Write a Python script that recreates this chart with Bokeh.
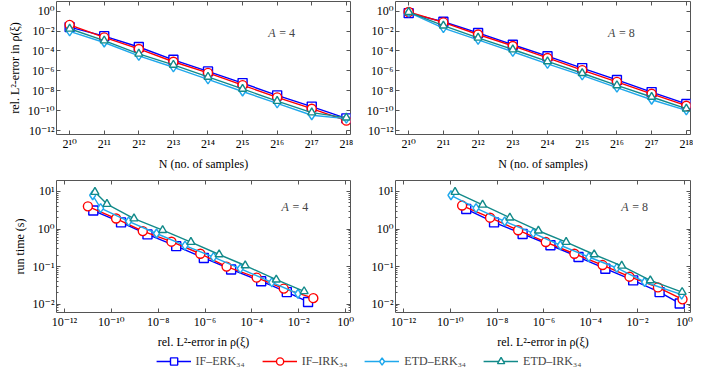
import math
from bokeh.plotting import figure
from bokeh.models import (Range1d, FixedTicker, LogAxis, CustomJSTickFormatter,
                          Label, Legend, LegendItem)
from bokeh.layouts import column, row
from bokeh.embed import file_html
from bokeh.resources import INLINE

# ---------------- data ----------------
N_samples = [1024, 2048, 4096, 8192, 16384, 32768, 65536, 131072, 262144]

# relative L2 error, A = 4
err4_if_erk = [2.5e-2, 3.1e-3, 2.5e-4, 1.3e-5, 8.9e-7, 5.9e-8, 3.5e-9, 2.6e-10, 1.7e-11]
err4_if_irk = [4.2e-2, 2.3e-3, 1.6e-4, 8.3e-6, 6.3e-7, 3.7e-8, 2.2e-9, 1.6e-10, 1.0e-11]
err4_etd_erk = [9.3e-3, 7.1e-4, 3.2e-5, 2.3e-6, 1.4e-7, 8.5e-9, 5.5e-10, 3.5e-11, 1.6e-11]
err4_etd_irk = [1.7e-2, 1.1e-3, 5.2e-5, 4.0e-6, 2.5e-7, 1.55e-8, 9.3e-10, 6.5e-11, 2.0e-11]

# relative L2 error, A = 8
err8_if_erk = [6.3e-1, 8.7e-2, 6.5e-3, 4.2e-4, 3.0e-5, 1.9e-6, 1.23e-7, 7.4e-9, 4.8e-10]
err8_if_irk = [8.3e-1, 7.4e-2, 4.5e-3, 3.2e-4, 2.0e-5, 1.2e-6, 7.9e-8, 5.0e-9, 3.2e-10]
err8_etd_erk = [7.6e-1, 2.0e-2, 1.3e-3, 8.3e-5, 5.0e-6, 3.5e-7, 2.1e-8, 1.26e-9, 1.07e-10]
err8_etd_irk = [8.0e-1, 3.5e-2, 2.1e-3, 1.4e-4, 8.9e-6, 5.8e-7, 3.5e-8, 2.4e-9, 1.6e-10]

# run time (s), A = 4
rt4_if_erk = [0.0115, 0.021, 0.041, 0.084, 0.17, 0.35, 0.72, 1.5, 3.1]
rt4_if_irk = [0.0145, 0.026, 0.051, 0.10, 0.22, 0.46, 0.88, 1.9, 4.0]
rt4_etd_erk = [0.019, 0.038, 0.089, 0.18, 0.36, 0.76, 1.6, 3.6, 7.9]
rt4_etd_irk = [0.022, 0.045, 0.107, 0.21, 0.45, 0.93, 1.9, 4.6, 9.6]

# run time (s), A = 8
rt8_if_erk = [0.0105, 0.021, 0.043, 0.088, 0.18, 0.37, 0.74, 1.5, 3.4]
rt8_if_irk = [0.0135, 0.028, 0.054, 0.11, 0.22, 0.45, 0.93, 2.0, 4.2]
rt8_etd_erk = [0.018, 0.039, 0.092, 0.18, 0.37, 0.78, 1.6, 3.6, 7.9]
rt8_etd_irk = [0.021, 0.043, 0.105, 0.21, 0.45, 0.90, 2.0, 4.4, 9.6]

method_names = ["IF\u2013ERK\u2083\u2084", "IF\u2013IRK\u2083\u2084",
                "ETD\u2013ERK\u2083\u2084", "ETD\u2013IRK\u2083\u2084"]

err_ticks = [1e-12, 1e-10, 1e-8, 1e-6, 1e-4, 1e-2, 1e0]
rt_ticks = [1e-2, 1e-1, 1e0, 1e1]
rt_minor = [m * t for t in [1e-3, 1e-2, 1e-1, 1e0, 1e1] for m in range(2, 10)]

# ---------------- style ----------------
COLORS = ["#0000ff", "#ff0000", "#1fa8ec", "#128a8a"]
MARKERS = ["square", "circle", "diamond", "triangle"]
MSIZES = [9, 9, 9, 8]
FONT = "'Liberation Serif', 'DejaVu Serif', serif"
FRAME = "#555555"
LW = 1.4

sup_js = """
const s = {"0":"\u2070","1":"\u00b9","2":"\u00b2","3":"\u00b3","4":"\u2074","5":"\u2075",
           "6":"\u2076","7":"\u2077","8":"\u2078","9":"\u2079","-":"\u207b"};
"""
fmt10 = CustomJSTickFormatter(code=sup_js + """
const e = Math.round(Math.log10(tick));
return "10" + String(e).split("").map(c => s[c]).join("");
""")
fmt2 = CustomJSTickFormatter(code=sup_js + """
const e = Math.round(Math.log2(tick));
return "2" + String(e).split("").map(c => s[c]).join("");
""")
fmt_blank = CustomJSTickFormatter(code='return "";')


def style_axis(ax, ticker, formatter=None, label=None, show_labels=True):
    ax.ticker = ticker
    ax.axis_line_color = None
    ax.major_tick_in = 4
    ax.major_tick_out = 0
    ax.minor_tick_in = 2
    ax.minor_tick_out = 0
    ax.major_tick_line_color = FRAME
    ax.minor_tick_line_color = FRAME
    ax.major_label_text_font = FONT
    ax.major_label_text_color = "black"
    if show_labels:
        ax.formatter = formatter
        ax.major_label_text_font_size = "12px"
        ax.major_label_standoff = 2
    else:
        ax.formatter = fmt_blank
        ax.major_label_text_font_size = "1px"
        ax.major_label_standoff = 0
    if label:
        ax.axis_label = label
        ax.axis_label_text_font = FONT
        ax.axis_label_text_font_size = "12px"
        ax.axis_label_text_font_style = "normal"
        ax.axis_label_text_color = "black"
        ax.axis_label_standoff = 3


def frac_pos(rng, f):
    lo, hi = math.log10(rng.start), math.log10(rng.end)
    return 10 ** (lo + f * (hi - lo))


def make_panel(width, height, mbl, mbr, mbt, mbb, xr, yr, xticker, xfmt, yticker,
               xlabel, ylabel, xs_list, ys_list, a_text, a_frac):
    p = figure(width=width, height=height, x_axis_type="log", y_axis_type="log",
               x_range=xr, y_range=yr, output_backend="svg", toolbar_location=None,
               min_border_left=mbl, min_border_right=mbr, min_border_top=mbt,
               min_border_bottom=mbb)
    p.grid.visible = False
    p.outline_line_color = FRAME
    p.outline_line_width = 1
    style_axis(p.xaxis[0], xticker, xfmt, xlabel)
    style_axis(p.yaxis[0], yticker, fmt10, ylabel)
    top = LogAxis()
    style_axis(top, xticker, show_labels=False)
    p.add_layout(top, "above")
    right = LogAxis()
    style_axis(right, yticker, show_labels=False)
    p.add_layout(right, "right")
    for xs, ys, c, m, ms in zip(xs_list, ys_list, COLORS, MARKERS, MSIZES):
        p.line(xs, ys, line_color=c, line_width=LW)
        p.scatter(xs, ys, marker=m, size=ms, line_color=c, fill_color="white",
                  line_width=LW)
    fx, fy = a_frac
    lx, ly = frac_pos(xr, fx), frac_pos(yr, fy)
    p.add_layout(Label(x=lx, y=ly, text="A", text_font=FONT,
                       text_font_style="italic", text_font_size="12px",
                       text_baseline="middle", text_align="left"))
    p.add_layout(Label(x=lx, y=ly, x_offset=8, text="\u00a0=\u00a0" + a_text,
                       text_font=FONT, text_font_size="12px",
                       text_baseline="middle", text_align="left"))
    return p


Nt = FixedTicker(ticks=N_samples, minor_ticks=[])
Et = FixedTicker(ticks=err_ticks, minor_ticks=[])
Rt = FixedTicker(ticks=rt_ticks, minor_ticks=rt_minor)

xlab_top = "N (no. of samples)"
ylab_err = "rel. L\u00b2-error in \u03c1(\u03be)"

errs4 = [err4_if_erk, err4_if_irk, err4_etd_erk, err4_etd_irk]
errs8 = [err8_if_erk, err8_if_irk, err8_etd_erk, err8_etd_irk]
rts4 = [rt4_if_erk, rt4_if_irk, rt4_etd_erk, rt4_etd_irk]
rts8 = [rt8_if_erk, rt8_if_irk, rt8_etd_erk, rt8_etd_irk]

p1 = make_panel(356, 174, 56, 6, 1, 40, Range1d(2 ** 9.62, 2 ** 18.12),
                Range1d(10 ** -12.39, 10 ** 0.97), Nt, fmt2, Et,
                xlab_top, ylab_err, [N_samples] * 4, errs4, "4", (0.72, 0.76))
p2 = make_panel(337, 174, 39, 3, 1, 40, Range1d(2 ** 9.62, 2 ** 18.12),
                Range1d(10 ** -12.39, 10 ** 0.97), Nt, fmt2, Et,
                xlab_top, None, [N_samples] * 4, errs8, "8", (0.72, 0.76))
p3 = make_panel(356, 178, 56, 6, 6, 40, Range1d(10 ** -12.34, 10 ** 0.21),
                Range1d(10 ** -2.22, 10 ** 1.29), Et, fmt10, Rt,
                ylab_err, "run time (s)", errs4, rts4, "4", (0.765, 0.80))
p4 = make_panel(337, 178, 39, 3, 6, 40, Range1d(10 ** -12.34, 10 ** 0.26),
                Range1d(10 ** -2.22, 10 ** 1.29), Et, fmt10, Rt,
                ylab_err, None, errs8, rts8, "8", (0.765, 0.80))

# ---------------- legend (proxy renderers lie outside the legend strip's range) ----
pl = figure(width=693, height=18, output_backend="svg", toolbar_location=None,
            x_axis_location=None, y_axis_location=None, min_border=0,
            min_border_left=44, outline_line_color=None,
            x_range=Range1d(0, 1), y_range=Range1d(0, 1))
pl.grid.visible = False
items = []
for name, ys, c, m, ms in zip(method_names, errs8, COLORS, MARKERS, MSIZES):
    lr = pl.line(x=N_samples, y=ys, line_color=c, line_width=LW)
    sr = pl.scatter(x=N_samples, y=ys, marker=m, size=ms, line_color=c,
                    fill_color="white", line_width=LW)
    items.append(LegendItem(label=name, renderers=[lr, sr]))
leg = Legend(items=items, orientation="horizontal", location="center",
             border_line_color=None, background_fill_alpha=0, glyph_width=35,
             glyph_height=18, label_standoff=5, spacing=17, padding=0, margin=0,
             label_text_font=FONT, label_text_font_size="12px")
pl.add_layout(leg)

layout = column(row(p1, p2), row(p3, p4), pl)
open("out.html", "w").write(file_html(layout, INLINE))
